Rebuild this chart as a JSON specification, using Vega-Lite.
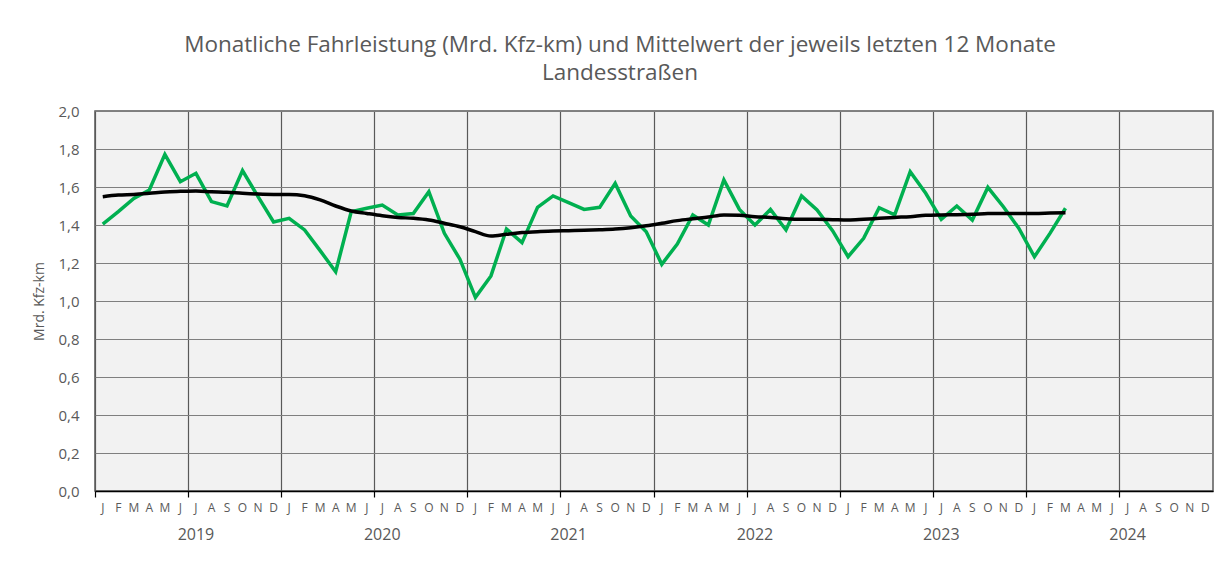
{
  "$schema": "https://vega.github.io/schema/vega-lite/v6.json",
  "width": 1118,
  "height": 380,
  "autosize": {"type": "none"},
  "padding": {"left": 95, "top": 111, "right": 19, "bottom": 72},
  "background": "white",
  "title": {
    "text": ["Monatliche Fahrleistung (Mrd. Kfz-km) und Mittelwert der jeweils letzten 12 Monate", "Landesstraßen"],
    "anchor": "middle",
    "frame": "group",
    "dx": -34,
    "offset": 20,
    "fontSize": 22.5,
    "fontWeight": "normal",
    "font": "Open Sans",
    "color": "#595959",
    "lineHeight": 28
  },
  "config": {
    "font": "Open Sans",
    "view": {"fill": "#f2f2f2", "stroke": "#595959", "strokeWidth": 1.5},
    "axis": {"labelColor": "#595959", "titleColor": "#595959", "zindex": 0}
  },
  "data": {"values": [
    {"monat": "2019-01", "fahrleistung": 1.405, "mittel": 1.549},
    {"monat": "2019-02", "fahrleistung": 1.47, "mittel": 1.558},
    {"monat": "2019-03", "fahrleistung": 1.54, "mittel": 1.561},
    {"monat": "2019-04", "fahrleistung": 1.584, "mittel": 1.567},
    {"monat": "2019-05", "fahrleistung": 1.772, "mittel": 1.574},
    {"monat": "2019-06", "fahrleistung": 1.628, "mittel": 1.577},
    {"monat": "2019-07", "fahrleistung": 1.672, "mittel": 1.579},
    {"monat": "2019-08", "fahrleistung": 1.523, "mittel": 1.575},
    {"monat": "2019-09", "fahrleistung": 1.5, "mittel": 1.572},
    {"monat": "2019-10", "fahrleistung": 1.686, "mittel": 1.567},
    {"monat": "2019-11", "fahrleistung": 1.549, "mittel": 1.563},
    {"monat": "2019-12", "fahrleistung": 1.416, "mittel": 1.561},
    {"monat": "2020-01", "fahrleistung": 1.435, "mittel": 1.561},
    {"monat": "2020-02", "fahrleistung": 1.374, "mittel": 1.554},
    {"monat": "2020-03", "fahrleistung": 1.265, "mittel": 1.532},
    {"monat": "2020-04", "fahrleistung": 1.154, "mittel": 1.5},
    {"monat": "2020-05", "fahrleistung": 1.47, "mittel": 1.474},
    {"monat": "2020-06", "fahrleistung": 1.488, "mittel": 1.461},
    {"monat": "2020-07", "fahrleistung": 1.505, "mittel": 1.449},
    {"monat": "2020-08", "fahrleistung": 1.453, "mittel": 1.44},
    {"monat": "2020-09", "fahrleistung": 1.46, "mittel": 1.435},
    {"monat": "2020-10", "fahrleistung": 1.575, "mittel": 1.426},
    {"monat": "2020-11", "fahrleistung": 1.356, "mittel": 1.409},
    {"monat": "2020-12", "fahrleistung": 1.22, "mittel": 1.391},
    {"monat": "2021-01", "fahrleistung": 1.019, "mittel": 1.365},
    {"monat": "2021-02", "fahrleistung": 1.132, "mittel": 1.342},
    {"monat": "2021-03", "fahrleistung": 1.379, "mittel": 1.351},
    {"monat": "2021-04", "fahrleistung": 1.307, "mittel": 1.36},
    {"monat": "2021-05", "fahrleistung": 1.493, "mittel": 1.365},
    {"monat": "2021-06", "fahrleistung": 1.553, "mittel": 1.368},
    {"monat": "2021-07", "fahrleistung": 1.518, "mittel": 1.37},
    {"monat": "2021-08", "fahrleistung": 1.482, "mittel": 1.372},
    {"monat": "2021-09", "fahrleistung": 1.493, "mittel": 1.375},
    {"monat": "2021-10", "fahrleistung": 1.619, "mittel": 1.379},
    {"monat": "2021-11", "fahrleistung": 1.447, "mittel": 1.386},
    {"monat": "2021-12", "fahrleistung": 1.365, "mittel": 1.396},
    {"monat": "2022-01", "fahrleistung": 1.193, "mittel": 1.409},
    {"monat": "2022-02", "fahrleistung": 1.3, "mittel": 1.423},
    {"monat": "2022-03", "fahrleistung": 1.453, "mittel": 1.433},
    {"monat": "2022-04", "fahrleistung": 1.4, "mittel": 1.442},
    {"monat": "2022-05", "fahrleistung": 1.637, "mittel": 1.453},
    {"monat": "2022-06", "fahrleistung": 1.482, "mittel": 1.451},
    {"monat": "2022-07", "fahrleistung": 1.4, "mittel": 1.444},
    {"monat": "2022-08", "fahrleistung": 1.482, "mittel": 1.44},
    {"monat": "2022-09", "fahrleistung": 1.374, "mittel": 1.433},
    {"monat": "2022-10", "fahrleistung": 1.553, "mittel": 1.43},
    {"monat": "2022-11", "fahrleistung": 1.479, "mittel": 1.43},
    {"monat": "2022-12", "fahrleistung": 1.37, "mittel": 1.428},
    {"monat": "2023-01", "fahrleistung": 1.233, "mittel": 1.426},
    {"monat": "2023-02", "fahrleistung": 1.33, "mittel": 1.43},
    {"monat": "2023-03", "fahrleistung": 1.491, "mittel": 1.435},
    {"monat": "2023-04", "fahrleistung": 1.453, "mittel": 1.44},
    {"monat": "2023-05", "fahrleistung": 1.681, "mittel": 1.444},
    {"monat": "2023-06", "fahrleistung": 1.567, "mittel": 1.451},
    {"monat": "2023-07", "fahrleistung": 1.43, "mittel": 1.453},
    {"monat": "2023-08", "fahrleistung": 1.5, "mittel": 1.454},
    {"monat": "2023-09", "fahrleistung": 1.426, "mittel": 1.456},
    {"monat": "2023-10", "fahrleistung": 1.598, "mittel": 1.46},
    {"monat": "2023-11", "fahrleistung": 1.496, "mittel": 1.461},
    {"monat": "2023-12", "fahrleistung": 1.382, "mittel": 1.461},
    {"monat": "2024-01", "fahrleistung": 1.233, "mittel": 1.461},
    {"monat": "2024-02", "fahrleistung": 1.356, "mittel": 1.463},
    {"monat": "2024-03", "fahrleistung": 1.488, "mittel": 1.465}
  ]},
  "resolve": {"axis": {"x": "independent"}},
  "layer": [
    {
      "mark": {"type": "line", "strokeOpacity": 0},
      "encoding": {
        "x": {"field": "monat", "type": "ordinal",
          "scale": {"type": "band", "paddingInner": 0, "paddingOuter": 0,
            "domain": ["2019-01","2019-02","2019-03","2019-04","2019-05","2019-06","2019-07","2019-08","2019-09","2019-10","2019-11","2019-12",
                       "2020-01","2020-02","2020-03","2020-04","2020-05","2020-06","2020-07","2020-08","2020-09","2020-10","2020-11","2020-12",
                       "2021-01","2021-02","2021-03","2021-04","2021-05","2021-06","2021-07","2021-08","2021-09","2021-10","2021-11","2021-12",
                       "2022-01","2022-02","2022-03","2022-04","2022-05","2022-06","2022-07","2022-08","2022-09","2022-10","2022-11","2022-12",
                       "2023-01","2023-02","2023-03","2023-04","2023-05","2023-06","2023-07","2023-08","2023-09","2023-10","2023-11","2023-12",
                       "2024-01","2024-02","2024-03","2024-04","2024-05","2024-06","2024-07","2024-08","2024-09","2024-10","2024-11","2024-12"]},
          "axis": {"orient": "bottom", "title": null,
            "values": ["2019-07","2020-07","2021-07","2022-07","2023-07","2024-07"],
            "bandPosition": 0, "labelExpr": "slice(datum.value, 0, 4)",
            "labelAngle": 0, "labelAlign": "center",
            "ticks": false, "domain": false, "grid": false,
            "labelPadding": 35, "labelFontSize": 16}},
        "y": {"field": "mittel", "type": "quantitative",
          "scale": {"domain": [0, 2], "nice": false},
          "axis": {"title": "Mrd. Kfz-km", "titleFontSize": 14, "titleFontWeight": "normal", "titlePadding": 11,
            "values": [0, 0.2, 0.4, 0.6, 0.8, 1, 1.2, 1.4, 1.6, 1.8, 2],
            "labelExpr": "replace(format(datum.value, '.1f'), '.', ',')",
            "labelFontSize": 15, "ticks": false, "labelPadding": 16, "domain": false,
            "grid": true, "gridColor": "#7f7f7f", "gridWidth": 1.2, "gridOpacity": 1}}
      }
    },
    {
      "mark": {"type": "line", "color": "#00b050", "strokeWidth": 3.5, "strokeJoin": "miter"},
      "encoding": {
        "x": {"field": "monat", "type": "ordinal",
          "axis": {"orient": "bottom", "title": null,
            "labelExpr": "['J','F','M','A','M','J','J','A','S','O','N','D'][toNumber(slice(datum.value, 5, 7)) - 1]",
            "labelAngle": 0, "labelAlign": "center",
            "ticks": false, "domain": false, "grid": false,
            "labelPadding": 11, "labelFontSize": 12}},
        "y": {"field": "fahrleistung", "type": "quantitative",
          "axis": {"title": "Mrd. Kfz-km", "titleFontSize": 14, "titleFontWeight": "normal", "titlePadding": 11,
            "values": [0, 0.2, 0.4, 0.6, 0.8, 1, 1.2, 1.4, 1.6, 1.8, 2],
            "labelExpr": "replace(format(datum.value, '.1f'), '.', ',')",
            "labelFontSize": 15, "ticks": false, "labelPadding": 16, "domain": false,
            "grid": true, "gridColor": "#7f7f7f", "gridWidth": 1.2, "gridOpacity": 1}}
      }
    },
    {
      "mark": {"type": "line", "color": "#000000", "strokeWidth": 3.5, "interpolate": "monotone"},
      "encoding": {
        "x": {"field": "monat", "type": "ordinal",
          "axis": {"orient": "bottom", "title": null,
            "values": ["2019-01","2019-07","2020-01","2020-07","2021-01","2021-07","2022-01","2022-07","2023-01","2023-07","2024-01","2024-07"],
            "bandPosition": 0, "labels": false,
            "ticks": true, "tickSize": 6, "tickColor": "#000000", "tickWidth": 1.2,
            "domain": true, "domainColor": "#000000", "domainWidth": 1.5,
            "grid": true, "gridColor": "#595959", "gridWidth": 1.2, "gridOpacity": 1}},
        "y": {"field": "mittel", "type": "quantitative",
          "axis": {"title": "Mrd. Kfz-km", "titleFontSize": 14, "titleFontWeight": "normal", "titlePadding": 11,
            "values": [0, 0.2, 0.4, 0.6, 0.8, 1, 1.2, 1.4, 1.6, 1.8, 2],
            "labelExpr": "replace(format(datum.value, '.1f'), '.', ',')",
            "labelFontSize": 15, "ticks": false, "labelPadding": 16, "domain": false,
            "grid": true, "gridColor": "#7f7f7f", "gridWidth": 1.2, "gridOpacity": 1}}
      }
    }
  ]
}
